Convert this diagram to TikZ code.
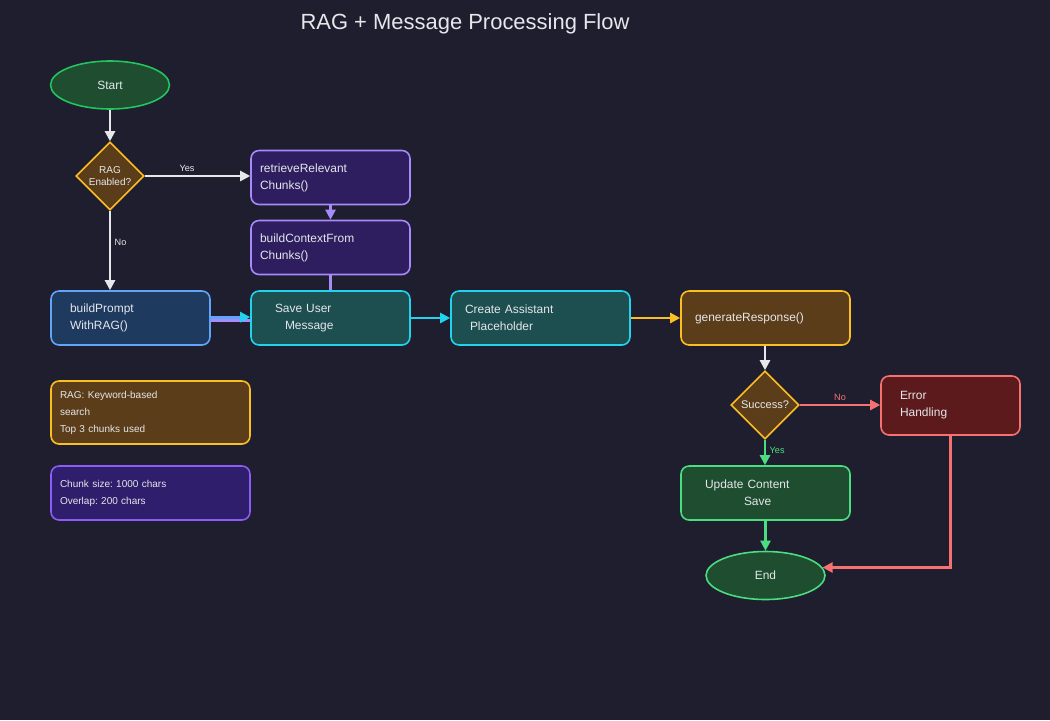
\documentclass[tikz,border=0pt]{standalone}
\usepackage{fontspec}
\setmainfont{Liberation Sans}
\frenchspacing
\usetikzlibrary{shapes.geometric, arrows.meta, positioning}
\definecolor{bgcolor}{RGB}{30,30,46}
\definecolor{txtcolor}{RGB}{229,231,235}
\definecolor{greenfill}{RGB}{30,77,48}
\definecolor{greenline}{RGB}{34,197,94}
\definecolor{lightgreen}{RGB}{74,222,128}
\definecolor{amberfill}{RGB}{92,61,26}
\definecolor{amberline}{RGB}{251,191,36}
\definecolor{purplefill}{RGB}{46,30,96}
\definecolor{purpleline}{RGB}{167,139,250}
\definecolor{bluefill}{RGB}{30,58,95}
\definecolor{blueline}{RGB}{96,165,250}
\definecolor{tealfill}{RGB}{29,78,80}
\definecolor{tealline}{RGB}{34,211,238}
\definecolor{redfill}{RGB}{92,26,28}
\definecolor{redline}{RGB}{248,113,113}
\definecolor{notefill}{RGB}{46,30,107}
\definecolor{noteline}{RGB}{139,92,246}

\begin{document}
\begin{tikzpicture}[
    x=0.02cm, y=-0.02cm,
    box/.style={rectangle, rounded corners=0.16cm, line width=0.9pt, minimum height=1.08cm, align=left, text=txtcolor, font=\fontsize{6.8}{9.7}\selectfont},
    purplebox/.style={box, draw=purpleline, fill=purplefill},
    bluebox/.style={box, draw=blueline, fill=bluefill},
    tealbox/.style={box, draw=tealline, fill=tealfill},
    amberbox/.style={box, draw=amberline, fill=amberfill},
    redbox/.style={box, draw=redline, fill=redfill},
    greenbox/.style={box, draw=lightgreen, fill=greenfill},
    terminal/.style={ellipse, line width=0.9pt, fill=greenfill, minimum width=2.38cm, minimum height=0.96cm, text=txtcolor, font=\fontsize{6.8}{8}\selectfont},
    decision/.style={diamond, line width=0.9pt, draw=amberline, fill=amberfill, inner sep=0pt, minimum width=1.36cm, minimum height=1.36cm, align=center, text=txtcolor},
    note/.style={box, minimum width=3.98cm, text width=3.62cm, inner xsep=0.18cm, font=\fontsize{5.7}{9.7}\selectfont},
    lbl/.style={font=\fontsize{5.2}{6}\selectfont, inner sep=2pt},
    arrow/.style={-{Triangle[length=0.2cm, width=0.2cm]}, line width=1.3pt}
]
    % Background
    \fill[bgcolor] (0,0) rectangle (1050,720);
    \useasboundingbox (0,0) rectangle (1050,720);

    % Title
    \node[text=txtcolor, font=\fontsize{12.5}{15}\selectfont] (title) at (465,24) {RAG + Message Processing Flow};

    % Start and RAG check
    \node[terminal, draw=greenline] (start) at (110,85) {Start};
    \node[decision, font=\fontsize{5.7}{6.8}\selectfont] (rag) at (110,176) {RAG\\Enabled?};

    % RAG branch
    \node[purplebox, minimum width=3.18cm, text width=2.82cm, inner xsep=0.18cm] (retrieve) at (330.5,177.5) {retrieveRelevant\\Chunks()};
    \node[purplebox, minimum width=3.18cm, text width=2.82cm, inner xsep=0.18cm] (context) at (330.5,247.5) {buildContextFrom\\Chunks()};

    % Main row
    \node[bluebox, minimum width=3.18cm, text width=2.42cm, inner xsep=0.38cm] (prompt) at (130.5,318) {buildPrompt\\WithRAG()};
    \node[tealbox, minimum width=3.18cm, text width=2.22cm, inner xsep=0.48cm] (save) at (330.5,318) {Save User\\\hspace*{0.2cm}Message};
    \node[tealbox, minimum width=3.58cm, text width=3.02cm, inner xsep=0.28cm] (create) at (540.5,318) {Create Assistant\\\hspace*{0.1cm}Placeholder};
    \node[amberbox, minimum width=3.38cm, text width=2.82cm, inner xsep=0.28cm] (generate) at (765.5,318) {generateResponse()};

    % Result check
    \node[decision, font=\fontsize{6.3}{7}\selectfont] (success) at (765,405) {Success?};
    \node[redbox, minimum width=2.78cm, minimum height=1.18cm, text width=2.02cm, inner xsep=0.38cm] (error) at (950.5,405.5) {Error\\Handling};
    \node[greenbox, minimum width=3.38cm, text width=2.42cm, inner xsep=0.48cm] (update) at (765.5,493) {Update Content\\\hspace*{0.78cm}Save};
    \node[terminal, draw=lightgreen] (end) at (765.5,575.5) {End};

    % Notes
    \node[note, draw=amberline, fill=amberfill, minimum height=1.26cm] (note1) at (150.5,412.5) {RAG: Keyword-based\\search\\Top 3 chunks used};
    \node[note, draw=noteline, fill=notefill] (note2) at (150.5,493) {Chunk size: 1000 chars\\Overlap: 200 chars};

    % Connectors
    \draw[arrow, txtcolor] (start) -- (rag);
    \draw[arrow, txtcolor] (rag.east) -- node[lbl, above, pos=0.4, text=txtcolor] {Yes} (rag.east -| retrieve.west);
    \draw[arrow, txtcolor] (rag.south) -- node[lbl, right, pos=0.4, text=txtcolor] {No} (rag.south |- prompt.north);
    \draw[arrow, purpleline] (retrieve) -- (context);
    \draw[line width=1.3pt, purpleline] (context) -- (save);
    \draw[line width=1.3pt, purpleline] ([yshift=-1.5pt]prompt.east) -- ([yshift=-1.5pt]save.west);
    \draw[-{Triangle[length=0.2cm, width=0.2cm, color=tealline]}, line width=1.8pt, blueline] ([yshift=0.5pt]prompt.east) -- ([yshift=0.5pt]save.west);
    \draw[arrow, tealline] (save) -- (create);
    \draw[arrow, amberline] (create) -- (generate);
    \draw[arrow, txtcolor] (generate.south -| success) -- (success);
    \draw[arrow, redline] (success) -- node[lbl, above, text=redline] {No} (success -| error.west);
    \draw[arrow, lightgreen] (success) -- node[lbl, right, pos=0.4, text=lightgreen] {Yes} (success |- update.north);
    \draw[arrow, lightgreen] (update.south -| end) -- (end);
    \draw[arrow, redline] (error.south) |- (end.8);
\end{tikzpicture}
\end{document}
